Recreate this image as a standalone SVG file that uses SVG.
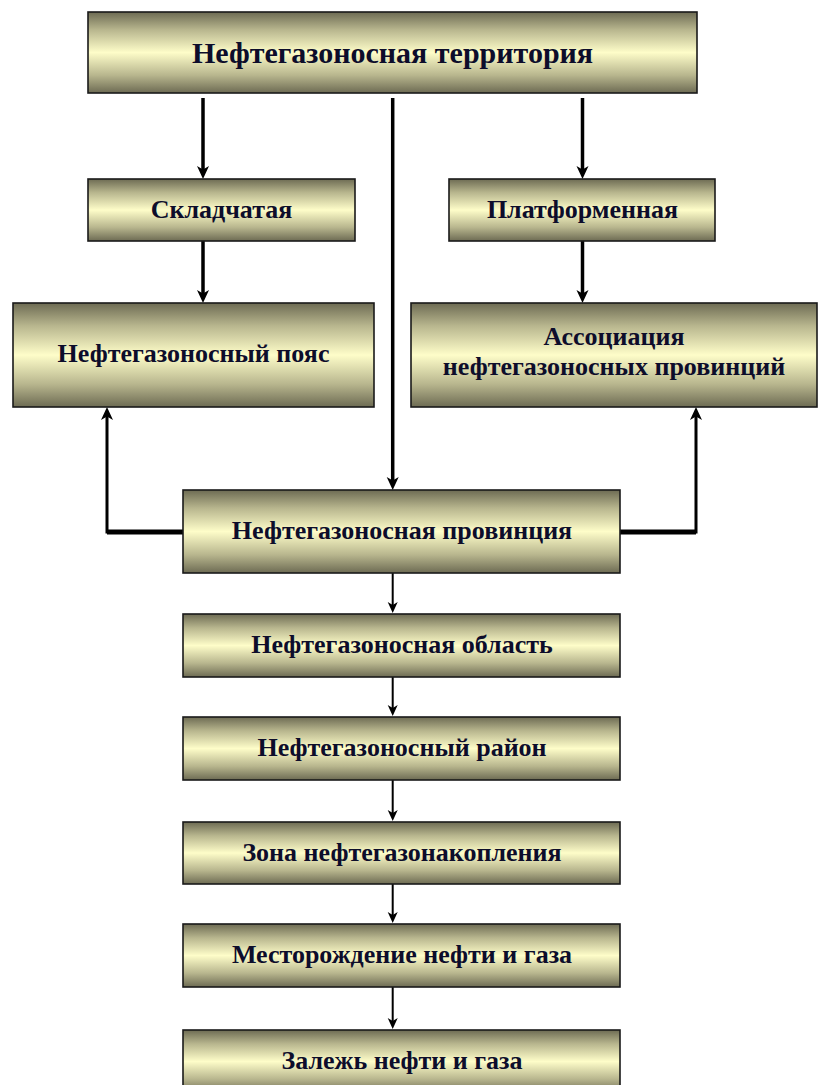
<svg xmlns="http://www.w3.org/2000/svg" width="818" height="1085" viewBox="0 0 818 1085">
  <defs>
    <linearGradient id="olive" x1="0" y1="0" x2="0" y2="1">
      <stop offset="0" stop-color="#6d6b53"/>
      <stop offset="0.22" stop-color="#b8b68e"/>
      <stop offset="0.5" stop-color="#fefdc9"/>
      <stop offset="0.78" stop-color="#b8b68e"/>
      <stop offset="1" stop-color="#6d6b53"/>
    </linearGradient>
    <marker id="headBig" markerUnits="userSpaceOnUse" markerWidth="14" markerHeight="14" viewBox="0 0 14 14" refX="5" refY="7" orient="auto">
      <path d="M0,1 L13,7 L0,13 L3.5,7 Z" fill="#000"/>
    </marker>
    <marker id="headSmall" markerUnits="userSpaceOnUse" markerWidth="12" markerHeight="12" viewBox="0 0 12 12" refX="5" refY="6" orient="auto">
      <path d="M0,1 L11,6 L0,11 L3,6 Z" fill="#000"/>
    </marker>
    <style>
      .box { fill: url(#olive); stroke: #1a1a1a; stroke-width: 1.6; }
      .lbl { font-family: "Liberation Serif", "Times New Roman", serif; font-weight: bold; font-size: 26px; fill: #0d0d2b; text-anchor: middle; }
      .big { font-size: 30px; }
      .thick { fill: none; stroke: #000; stroke-width: 3.5; marker-end: url(#headBig); }
      .thin { fill: none; stroke: #000; stroke-width: 2; marker-end: url(#headSmall); }
      .feed { fill: none; stroke: #000; stroke-width: 3; stroke-linejoin: miter; marker-end: url(#headBig); }
      .bar { fill: none; stroke: #000; stroke-width: 5; }
    </style>
  </defs>

  <rect width="818" height="1085" fill="#ffffff"/>

  <!-- connectors -->
  <g id="connectors">
    <path class="thick" d="M203,98 V171"/>
    <path class="thick" d="M392.7,98 V482"/>
    <path class="thick" d="M582.5,98 V171"/>
    <path class="thick" d="M203,241 V295"/>
    <path class="thick" d="M582.5,241 V295"/>
    <path class="feed" d="M183,532 H107 V415"/>
    <path class="bar" d="M183,532 H107"/>
    <path class="feed" d="M620,532 H696 V415"/>
    <path class="bar" d="M620,532 H696"/>
    <path class="thin" d="M392.7,573 V607"/>
    <path class="thin" d="M392.7,677 V710"/>
    <path class="thin" d="M392.7,780 V815"/>
    <path class="thin" d="M392.7,884 V917"/>
    <path class="thin" d="M392.7,987 V1023"/>
  </g>

  <g id="territory">
    <rect class="box" x="88" y="12" width="609" height="81"/>
    <text class="lbl big" x="392.5" y="63">Нефтегазоносная территория</text>
  </g>

  <g id="folded">
    <rect class="box" x="88" y="179" width="267" height="62"/>
    <text class="lbl" x="221.5" y="217.5">Складчатая</text>
  </g>

  <g id="platform">
    <rect class="box" x="449" y="179" width="266" height="62"/>
    <text class="lbl" x="582.5" y="217.5">Платформенная</text>
  </g>

  <g id="belt">
    <rect class="box" x="13" y="303" width="361" height="104"/>
    <text class="lbl" x="193.5" y="362">Нефтегазоносный пояс</text>
  </g>

  <g id="association">
    <rect class="box" x="411" y="303" width="406" height="104"/>
    <text class="lbl" x="614" y="345">Ассоциация</text>
    <text class="lbl" x="614" y="375">нефтегазоносных провинций</text>
  </g>

  <g id="province">
    <rect class="box" x="183" y="490" width="437" height="83"/>
    <text class="lbl" x="402" y="539">Нефтегазоносная провинция</text>
  </g>

  <g id="region">
    <rect class="box" x="183" y="614" width="437" height="63"/>
    <text class="lbl" x="402" y="653">Нефтегазоносная область</text>
  </g>

  <g id="district">
    <rect class="box" x="183" y="717" width="437" height="63"/>
    <text class="lbl" x="402" y="756">Нефтегазоносный район</text>
  </g>

  <g id="zone">
    <rect class="box" x="183" y="822" width="437" height="62"/>
    <text class="lbl" x="402" y="861">Зона нефтегазонакопления</text>
  </g>

  <g id="field">
    <rect class="box" x="183" y="924" width="437" height="63"/>
    <text class="lbl" x="402" y="963">Месторождение нефти и газа</text>
  </g>

  <g id="deposit">
    <rect class="box" x="183" y="1030" width="437" height="63"/>
    <text class="lbl" x="402" y="1069">Залежь нефти и газа</text>
  </g>
</svg>
